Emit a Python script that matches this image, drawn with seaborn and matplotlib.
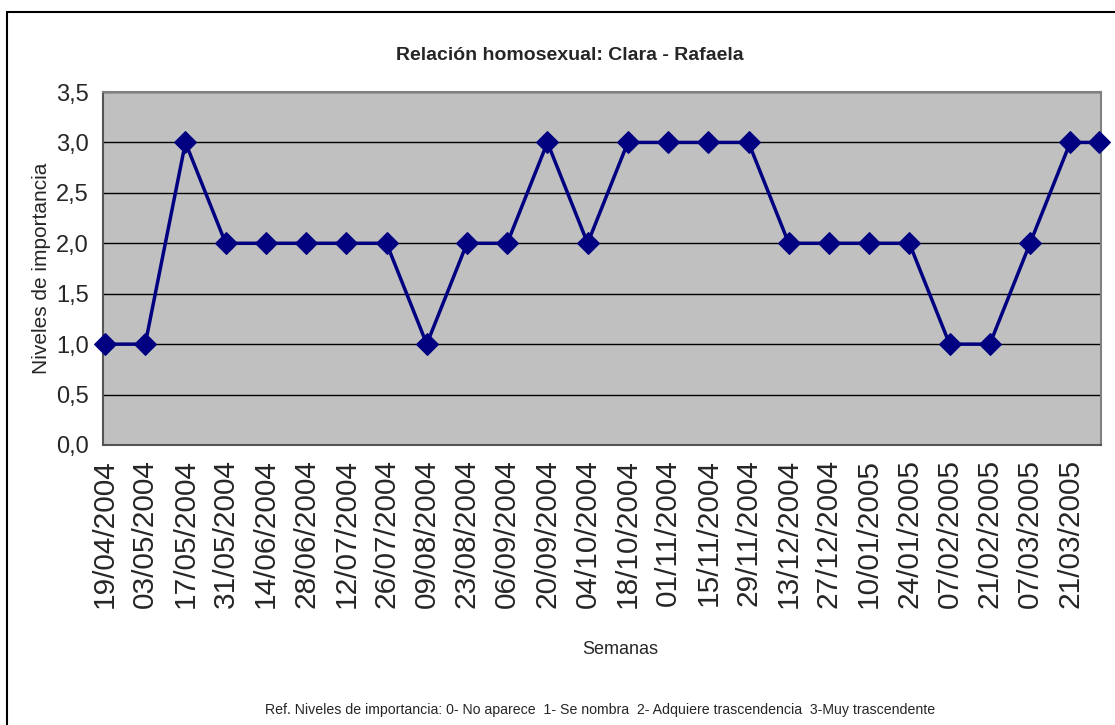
import pandas as pd
import matplotlib
matplotlib.use("Agg")
import matplotlib.pyplot as plt
import matplotlib.dates as mdates
from matplotlib.lines import Line2D
import seaborn as sns

# data
fechas = ["19/04/2004", "03/05/2004", "17/05/2004", "31/05/2004", "14/06/2004",
          "28/06/2004", "12/07/2004", "26/07/2004", "09/08/2004", "23/08/2004",
          "06/09/2004", "20/09/2004", "04/10/2004", "18/10/2004", "01/11/2004",
          "15/11/2004", "29/11/2004", "13/12/2004", "27/12/2004", "10/01/2005",
          "24/01/2005", "07/02/2005", "21/02/2005", "07/03/2005", "21/03/2005",
          "31/03/2005"]
niveles = [1, 1, 3, 2, 2, 2, 2, 2, 1, 2, 2, 3, 2, 3, 3, 3, 3, 2, 2, 2, 2, 1, 1, 2, 3, 3]
etiquetas_x = fechas[:-1]
ticks_y = [0.0, 0.5, 1.0, 1.5, 2.0, 2.5, 3.0, 3.5]

df = pd.DataFrame({"fecha": pd.to_datetime(fechas, format="%d/%m/%Y"), "nivel": niveles})

sns.set_style("white")
plt.rcParams["font.family"] = ["Liberation Sans", "DejaVu Sans"]

fig = plt.figure(figsize=(11.15, 7.25), dpi=100)
ax = fig.add_axes([103 / 1115, 1 - 445 / 725, (1101 - 103) / 1115, (445 - 92) / 725])
ax.set_facecolor("#C0C0C0")

sns.lineplot(data=df, x="fecha", y="nivel", ax=ax, color="#000080", linewidth=2.5,
             marker="D", markersize=11, markeredgecolor="#000080", zorder=3, clip_on=False)

ax.set_ylim(0, 3.5)
ax.set_xlim(df["fecha"].iloc[0] - pd.Timedelta(days=0.7), df["fecha"].iloc[-1] + pd.Timedelta(days=0.7))
ax.set_yticks(ticks_y)
ax.set_yticklabels([f"{v:.1f}".replace(".", ",") for v in ticks_y], fontsize=17)
xt = pd.to_datetime(etiquetas_x, format="%d/%m/%Y")
ax.set_xticks(mdates.date2num(xt))
ax.set_xticklabels(etiquetas_x, rotation=90, fontsize=21.5)
ax.tick_params(axis="both", direction="out", length=7, width=1, color="black", pad=3)

ax.grid(axis="y", color="black", linewidth=1)
ax.set_axisbelow(True)
for s in ["left", "bottom"]:
    ax.spines[s].set_color("#555555")
    ax.spines[s].set_linewidth(1.5)
for s in ["top", "right"]:
    ax.spines[s].set_color("#808080")
    ax.spines[s].set_linewidth(1.5)

ax.set_xlabel("")
ax.set_ylabel("Niveles de importancia", fontsize=15)
ax.yaxis.set_label_coords(-0.052, 0.5)

fig.text(570 / 1115, 1 - 55 / 725, "Relación homosexual: Clara - Rafaela", ha="center",
         va="center", fontsize=14, fontweight="bold")
fig.text(620 / 1115, 1 - 650 / 725, "Semanas", ha="center", va="center", fontsize=13)
fig.text(600 / 1115, 1 - 710 / 725,
         "Ref. Niveles de importancia: 0- No aparece  1- Se nombra  2- Adquiere trascendencia  3-Muy trascendente",
         ha="center", va="center", fontsize=10.2)

# frame around the chart area
fig.add_artist(Line2D([7 / 1115, 1], [1 - 12 / 725, 1 - 12 / 725], color="black", linewidth=1.5))
fig.add_artist(Line2D([7 / 1115, 7 / 1115], [0, 1 - 12 / 725], color="black", linewidth=1.5))

fig.savefig("out.png", dpi=100)
